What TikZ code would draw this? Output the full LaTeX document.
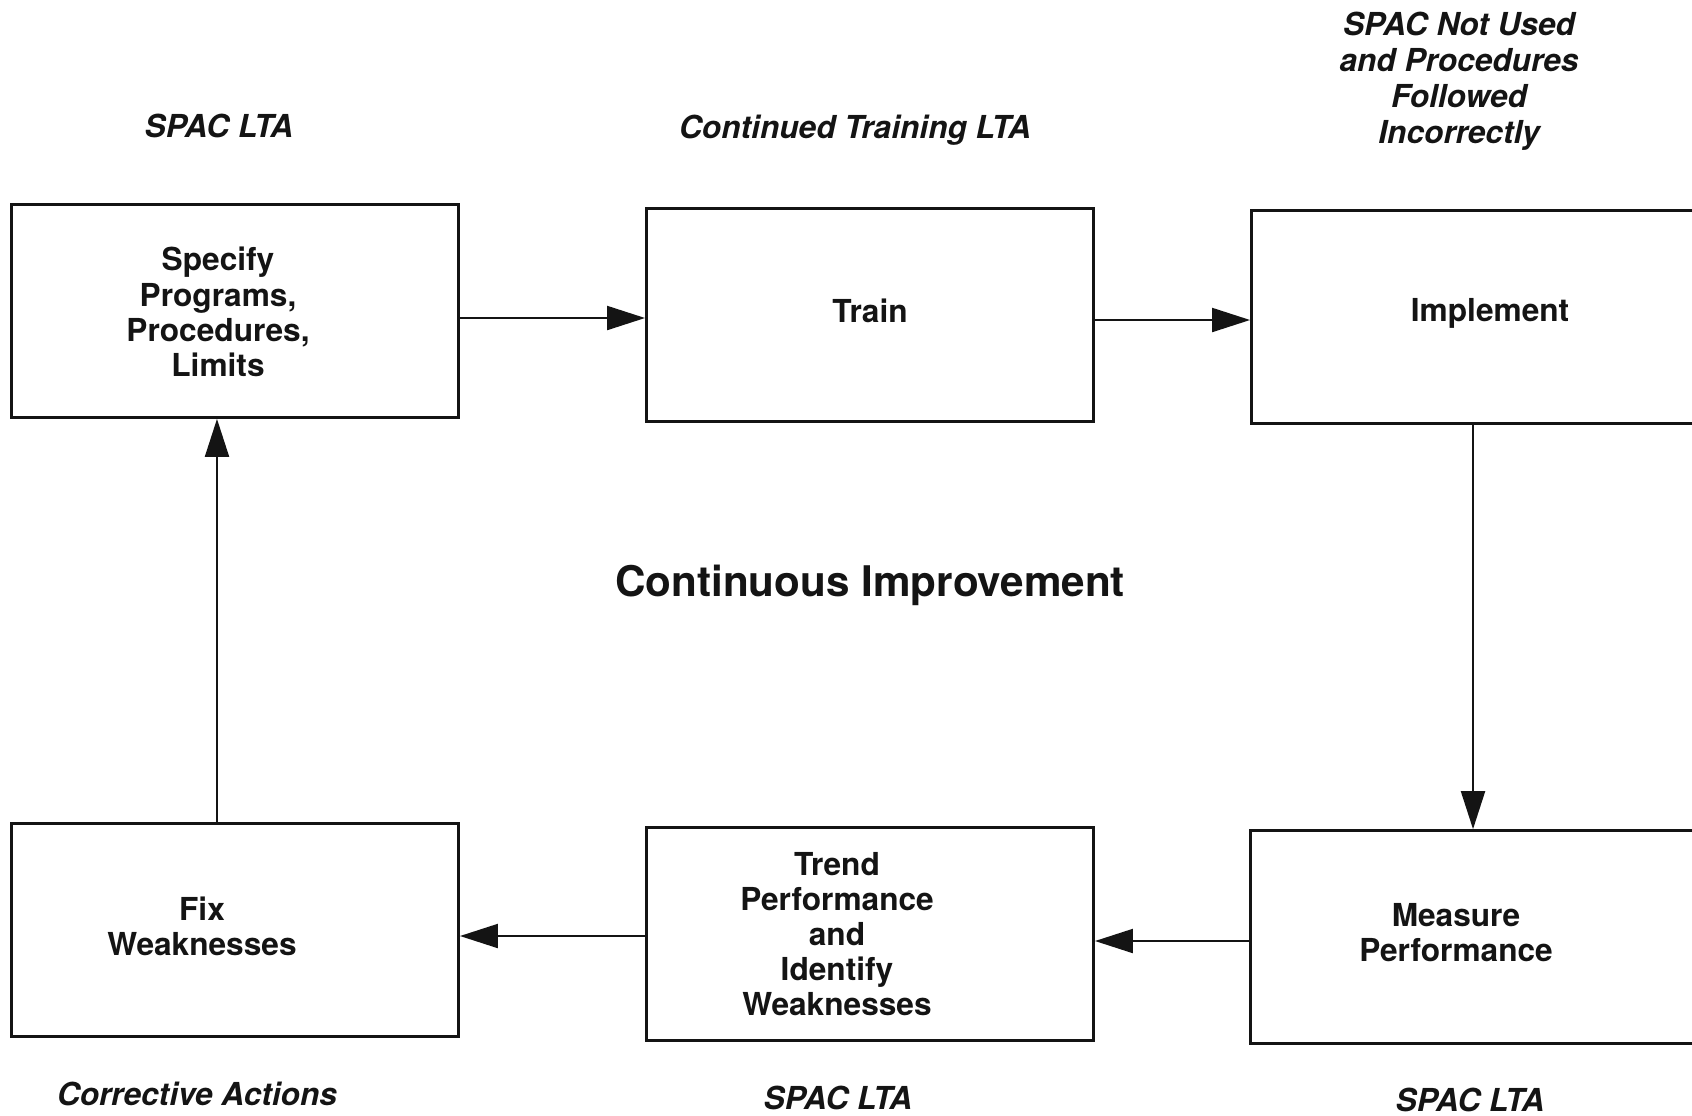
\documentclass[tikz,border=0pt]{standalone}
\usepackage{fontspec}
\setmainfont{TeX Gyre Heros}
\setsansfont{TeX Gyre Heros}
\usetikzlibrary{positioning,calc,arrows.meta}
\definecolor{ink}{HTML}{141414}
\tikzset{
  every node/.append style={font=\sffamily},
  box/.style={draw=ink, line width=0.75pt, minimum width=4.47cm,
              minimum height=2.13cm, inner sep=0pt},
  btxt/.style={align=center, text=ink, inner sep=0pt,
               font=\sffamily\bfseries\fontsize{9}{10}\selectfont},
  lbl/.style={align=center, text=ink, inner sep=0pt,
              font=\sffamily\bfseries\itshape\fontsize{9}{10.2}\selectfont},
  ttl/.style={text=ink, inner sep=0pt, font=\sffamily\bfseries\fontsize{12}{14}\selectfont},
  arr/.style={-{Triangle[length=3.8mm,width=2.4mm]}, line width=0.6pt, draw=ink},
}
\begin{document}
\begin{tikzpicture}[x=0.01cm,y=-0.01cm]
  \useasboundingbox (0,0) rectangle (1692,1115);
  \clip (0,0) rectangle (1692,1115);
  % boxes of the loop
  \node[box] (spec)  at (235,311) {};
  \node[box] (train) at (870,315) {};
  \node[box] (impl)  at (1475,317) {};
  \node[box] (meas)  at (1474,937) {};
  \node[box] (trend) at (870,934) {};
  \node[box] (fix)   at (235,930) {};
  % box texts
  \node[btxt] (spect) at (218,312) {Specify\\Programs,\\Procedures,\\Limits};
  \node[btxt] (traint) at (870,311) {Train};
  \node[btxt] (implt) at (1490,313) {Implement};
  \node[btxt] (meast) at (1456,933) {Measure\\Performance};
  \node[btxt] (trendt) at (837,934) {Trend\\Performance\\and\\Identify\\Weaknesses};
  \node[btxt] (fixt) at (202,926) {Fix\\Weaknesses};
  % labels
  \node[lbl] (lspec) at (219,126) {SPAC LTA};
  \node[lbl] (ltrain) at (855,130) {Continued Training LTA};
  \node[lbl] (limpl) at (1459,81) {SPAC Not Used\\and Procedures\\Followed\\Incorrectly};
  \node[lbl] (lfix) at (197,1094) {Corrective Actions};
  \node[lbl] (ltrend) at (838,1098) {SPAC LTA};
  \node[lbl] (lmeas) at (1470,1100) {SPAC LTA};
  \node[ttl] (cimp) at (870,585) {Continuous Improvement};
  % connectors
  \draw[arr] ([yshift=-0.07cm]spec.east) -- ([yshift=-0.07cm]spec.east -| train.west);
  \draw[arr] ([yshift=-0.05cm]train.east) -- ([yshift=-0.05cm]train.east -| impl.west);
  \draw[arr] ([xshift=-0.02cm]impl.south) -- ([xshift=-0.02cm]impl.south |- meas.north);
  \draw[arr] ([yshift=-0.04cm]meas.west) -- ([yshift=-0.04cm]meas.west -| trend.east);
  \draw[arr] ([yshift=-0.02cm]trend.west) -- ([yshift=-0.02cm]trend.west -| fix.east);
  \draw[arr] ([xshift=-0.18cm]fix.north) -- ([xshift=-0.18cm]spec.south);
\end{tikzpicture}
\end{document}
